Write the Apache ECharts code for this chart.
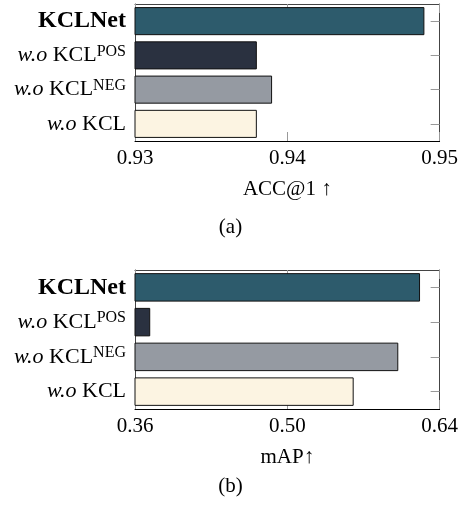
<!DOCTYPE html>
<html>
<head>
<meta charset="utf-8">
<script src="https://cdn.jsdelivr.net/npm/echarts@6/dist/echarts.min.js"></script>
<style>
  html, body { margin: 0; padding: 0; background: #fff; }
  #chart { width: 461px; height: 508px; }
</style>
</head>
<body>
<div id="chart"></div>
<script>
// categories, top to bottom
var categories = ['KCLNet', 'w.o KCL POS', 'w.o KCL NEG', 'w.o KCL'];
var barColors = ['#2d5b6c', '#2a3140', '#959aa2', '#fcf4e2'];

// (a) accuracy
var accValues = [0.949, 0.938, 0.939, 0.938];
var accTicks = { min: 0.93, max: 0.95, interval: 0.01 };

// (b) mAP
var mapValues = [0.622, 0.374, 0.602, 0.561];
var mapTicks = { min: 0.36, max: 0.64, interval: 0.14 };

var font = 'Liberation Serif';
var chart = echarts.init(document.getElementById('chart'));

// turn category name into rich text (bold name / italic w.o / superscript)
function catLabel(name) {
  if (name === 'KCLNet') return '{b|KCLNet}';
  var parts = name.split(' ');
  var s = '{i|' + parts[0] + '}{sp| }{n|' + parts[1] + '}';
  if (parts[2]) s += '{s|' + parts[2] + '}';
  return s;
}

var rich = {
  b: { fontFamily: font, fontSize: 24, fontWeight: 'bold', color: '#000', lineHeight: 24 },
  i: { fontFamily: font, fontSize: 22, fontStyle: 'italic', color: '#000', lineHeight: 24 },
  sp: { fontFamily: font, fontSize: 22, color: '#000', lineHeight: 24 },
  n: { fontFamily: font, fontSize: 22, color: '#000', lineHeight: 24 },
  s: { fontFamily: font, fontSize: 16, color: '#000', lineHeight: 13, verticalAlign: 'top' }
};

function xAxes(grid, t, name) {
  return [{
    gridIndex: grid, type: 'value', position: 'bottom',
    min: t.min, max: t.max, interval: t.interval,
    name: name, nameLocation: 'middle', nameGap: 38,
    nameTextStyle: { fontFamily: font, fontSize: 21, color: '#000' },
    axisLine: { show: true, lineStyle: { color: '#000', width: 1 } },
    axisTick: { show: true, inside: true, length: 9, lineStyle: { color: '#999' } },
    axisLabel: {
      fontFamily: font, fontSize: 21, color: '#000', margin: 7,
      formatter: function (v) { return v.toFixed(2); }
    },
    splitLine: { show: false }
  }, {
    gridIndex: grid, type: 'value', position: 'top',
    min: t.min, max: t.max, interval: t.interval,
    axisLine: { show: true, lineStyle: { color: '#444', width: 1 } },
    axisTick: { show: true, inside: true, length: 9, lineStyle: { color: '#999' } },
    axisLabel: { show: false },
    splitLine: { show: false }
  }];
}

function yAxes(grid) {
  return [{
    gridIndex: grid, type: 'category', data: categories, inverse: true, position: 'left',
    axisLine: { show: true, lineStyle: { color: '#444', width: 1 } },
    axisTick: { show: false },
    axisLabel: { margin: 9, fontFamily: font, fontSize: 22, color: '#000', formatter: catLabel, rich: rich }
  }, {
    gridIndex: grid, type: 'category', data: categories, inverse: true, position: 'right',
    axisLine: { show: true, lineStyle: { color: '#444', width: 1 } },
    axisTick: { show: true, inside: true, length: 9, alignWithLabel: true, lineStyle: { color: '#999' } },
    axisLabel: { show: false }
  }];
}

function barData(values) {
  return values.map(function (v, i) {
    return { value: v, itemStyle: { color: barColors[i] } };
  });
}

var option = {
  animation: false,
  grid: [
    { left: 135, top: 4, width: 306, height: 137 },
    { left: 135, top: 270, width: 306, height: 139 }
  ],
  xAxis: xAxes(0, accTicks, 'ACC@1 ↑').concat(xAxes(1, mapTicks, 'mAP↑')),
  yAxis: yAxes(0).concat(yAxes(1)),
  series: [{
    type: 'bar', xAxisIndex: 0, yAxisIndex: 0,
    barCategoryGap: '18%',
    itemStyle: { borderColor: '#111', borderWidth: 1 },
    data: barData(accValues)
  }, {
    type: 'bar', xAxisIndex: 2, yAxisIndex: 2,
    barCategoryGap: '18%',
    itemStyle: { borderColor: '#111', borderWidth: 1 },
    data: barData(mapValues)
  }],
  graphic: [
    { type: 'text', left: 'center', top: 217,
      style: { text: '(a)', fontFamily: font, fontSize: 21, fill: '#000' } },
    { type: 'text', left: 'center', top: 476,
      style: { text: '(b)', fontFamily: font, fontSize: 21, fill: '#000' } }
  ]
};
chart.setOption(option);
</script>
</body>
</html>
